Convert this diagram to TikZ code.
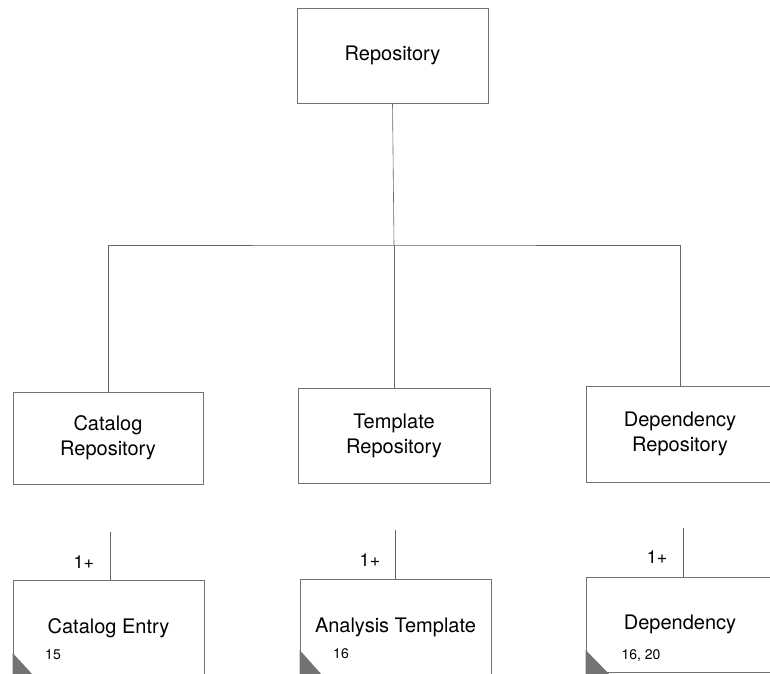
\documentclass[tikz,border=0pt]{standalone}
\usepackage{fontspec}
\setmainfont{TeX Gyre Heros}
\begin{document}
\begin{tikzpicture}[x=1pt,y=-1pt,
  box/.style={draw=black!55, line width=0.6pt, rectangle, inner sep=0pt,
    align=center, font=\fontsize{20}{25}\selectfont},
  link/.style={draw=black!60, line width=0.6pt},
  mult/.style={inner sep=0pt, font=\fontsize{18}{20}\selectfont},
  refno/.style={inner sep=0pt, font=\fontsize{14}{16}\selectfont},
  corner/.style={fill=black!55, draw=none}]
\useasboundingbox (0,0) rectangle (770,673);
\clip (0,0) rectangle (770,673);

% top level
\node[box, minimum width=191pt, minimum height=95pt] (repo) at (392.5,55.5) {Repository};

% second level
\node[box, minimum width=190pt, minimum height=92pt] (catrepo) at (108,438) {Catalog\\Repository};
\node[box, minimum width=192pt, minimum height=95pt] (tplrepo) at (394,435.5) {Template\\Repository};
\node[box, minimum width=188pt, minimum height=96pt] (deprepo) at (680,434) {Dependency\\Repository};

% tree connector
\coordinate (bus) at (394,245);
\draw[link] (repo.south) -- (bus);
\draw[link] (catrepo.north) |- (bus) -| (deprepo.north);
\draw[link] (bus) -- (tplrepo.north);

% third level
\node[box, minimum width=191pt, minimum height=96pt] (catentry) at (108.5,628) {Catalog Entry};
\node[box, minimum width=191pt, minimum height=96pt] (analysis) at (395.5,627) {Analysis Template};
\node[box, minimum width=188pt, minimum height=95pt] (depend) at (680,624.5) {Dependency};

% shaded corner marks
\fill[corner] (catentry.south west |- 0,653) -- (catentry.south west |- 0,675) -- (33,675) -- cycle;
\fill[corner] (analysis.south west |- 0,650) -- (analysis.south west |- 0,675) -- (322,675) -- cycle;
\fill[corner] (depend.south west |- 0,650) -- (depend.south west |- 0,675) -- (610,675) -- cycle;

% reference numbers
\node[refno] (n15) at (53,655) {15};
\node[refno] (n16) at (341,654) {16};
\node[refno] (n1620) at (641,656) {16, 20};

% multiplicity links
\coordinate (catup) at (110,532);
\coordinate (tplup) at (395,530);
\coordinate (depup) at (683,528);
\draw[link] (catup) -- (catup |- catentry.north);
\draw[link] (tplup) -- (tplup |- analysis.north);
\draw[link] (depup) -- (depup |- depend.north);
\node[mult] (m1) at (84,562) {1+};
\node[mult] (m2) at (370,560) {1+};
\node[mult] (m3) at (657,557) {1+};
\end{tikzpicture}
\end{document}
